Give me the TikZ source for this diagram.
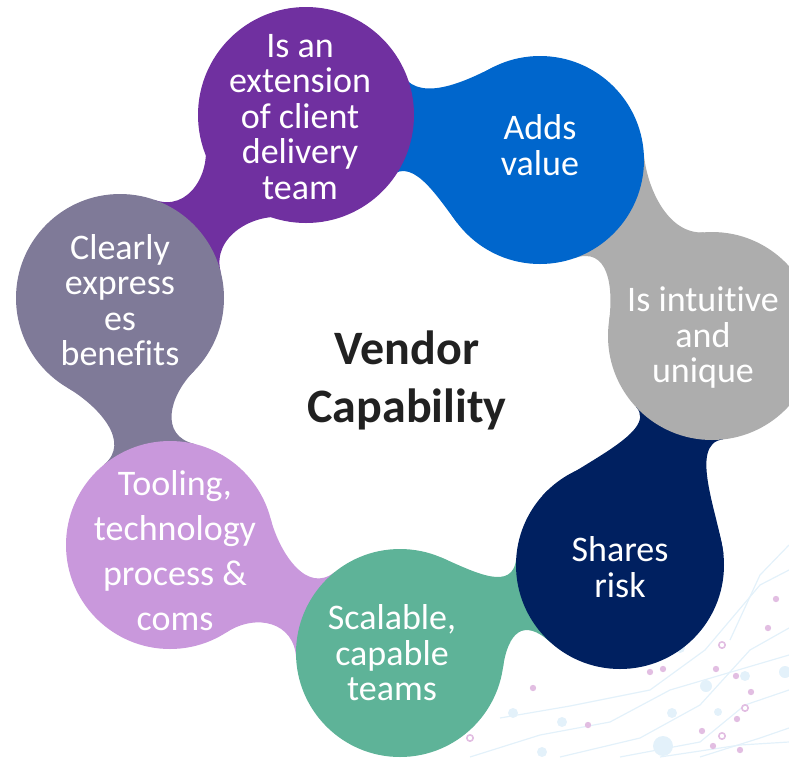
\documentclass[tikz,border=0pt]{standalone}
\usepackage{fontspec}
\setmainfont{Carlito}[Ligatures=NoCommon]
\usetikzlibrary{calc,backgrounds}
\definecolor{cext}{HTML}{7030A0}
\definecolor{cadd}{HTML}{0066CC}
\definecolor{cintu}{HTML}{ADADAD}
\definecolor{crisk}{HTML}{002060}
\definecolor{cscal}{HTML}{5EB398}
\definecolor{ctool}{HTML}{C998DC}
\definecolor{cclear}{HTML}{7F7A98}
\definecolor{cwire}{HTML}{E3F1FA}
\definecolor{cbead}{HTML}{E2BEE2}
\tikzset{
  bub/.style={circle, minimum size=104pt, inner sep=0pt},
  lbl/.style={text=white, align=center, font=\fontsize{18}{17.75}\selectfont},
  hub/.style={text=black!87, align=center, font=\fontsize{24}{29}\selectfont\bfseries},
  wire/.style={cwire, line width=0.6pt},
  bead/.style={fill=cbead},
  ring/.style={draw=cbead, line width=0.8pt},
  blob/.style={fill=cwire},
}
% tail of circle #2 running under circle #1
% #4/#5 outer side angle at #1/#2, #6/#7 inner side angle at #1/#2
\newcommand\tail[7]{%
  \pgfmathsetmacro\tlA{#4-19.1}
  \pgfmathsetmacro\tlB{19.1-#5}
  \pgfmathsetmacro\tlC{#7-19.1}
  \pgfmathsetmacro\tlD{19.1-#6}
  \fill[#3] ($(#1)!52pt!#4:(#2)$)
    .. controls ($(#1)!55pt!\tlA:(#2)$) and ($(#2)!55pt!\tlB:(#1)$) .. ($(#2)!52pt!-#5:(#1)$)
    -- ($(#2)!52pt!#7:(#1)$)
    .. controls ($(#2)!55pt!\tlC:(#1)$) and ($(#1)!55pt!\tlD:(#2)$) .. ($(#1)!52pt!-#6:(#2)$)
    -- cycle;}

\begin{document}
\begin{tikzpicture}[x=0.5pt, y=-0.5pt]
  \useasboundingbox (0,0) rectangle (789,757);

  % circles
  \node[bub, fill=cext, minimum size=108pt] (ext) at (306,115) {};
  \node[bub, fill=cadd] (add) at (540,160) {};
  \node[bub, fill=cintu] (intu) at (712,336) {};
  \node[bub, fill=crisk] (risk) at (620,565) {};
  \node[bub, fill=cscal] (scal) at (400,653) {};
  \node[bub, fill=ctool] (tool) at (170,545) {};
  \node[bub, fill=cclear] (clear) at (120,298) {};

  % labels
  \node[lbl] (ext-l) at (300,117) {Is an\\extension\\of client\\delivery\\team};
  \node[lbl] (add-l) at (540,145) {Adds\\value};
  \node[lbl] (intu-l) at (703,338) {Is intuitive\\and\\unique};
  \node[lbl] (risk-l) at (620,567) {Shares\\risk};
  \node[lbl] (scal-l) at (392,653) {Scalable,\\capable\\teams};
  \node[lbl, font=\fontsize{18}{22.5}\selectfont] (tool-l) at (175,551) {Tooling,\\technology\\process \&\\coms};
  \node[lbl] (clear-l) at (120,300) {Clearly\\express\\es\\benefits};
  \node[hub] (hub) at (407,380) {Vendor\\Capability};

  \begin{scope}[on background layer]
    % faint circuit pattern
    \draw[wire] (470,757) -- (540,735) -- (610,722) -- (670,690) -- (789,655);
    \draw[wire] (560,757) -- (640,738) -- (700,705) -- (750,650) -- (789,628);
    \draw[wire] (620,757) -- (700,742) -- (745,705) -- (789,690);
    \draw[wire] (500,718) -- (570,706) -- (650,690) -- (705,650) -- (760,585) -- (789,570);
    \draw[wire] (700,757) -- (760,738) -- (789,728);
    \draw[wire] (730,640) -- (760,575) -- (789,545);
    \draw[wire] (660,757) -- (740,745) -- (789,742);
    \foreach \p in {(776,599),(768,628),(716,669),(663,669),(650,672),(736,676),
                    (751,692),(737,719),(702,731),(713,746),(740,750),(588,725),(533,688)}
      \fill[bead] \p circle (3.2);
    \foreach \p in {(722,645),(745,708),(722,736),(470,738)}
      \draw[ring] \p circle (3.2);
    \foreach \p/\s in {(706,686)/6,(745,676)/5,(672,713)/5,(718,712)/4,(663,746)/10,
                       (513,713)/5,(562,722)/5,(542,752)/5,(680,648)/5,(785,672)/6}
      \fill[blob] \p circle (\s);

    % tails
    \tail{ext}{add}{cadd}{36}{52}{28}{48}
    \tail{add}{intu}{cintu}{50}{40}{25}{38}
    \tail{intu}{risk}{crisk}{28}{62}{25}{70}
    \tail{risk}{scal}{cscal}{26}{30}{26}{45}
    \tail{scal}{tool}{ctool}{28}{32}{26}{40}
    \tail{tool}{clear}{cclear}{28}{42}{25}{34}
    \tail{clear}{ext}{cext}{26}{32}{30}{36}
  \end{scope}
\end{tikzpicture}
\end{document}
